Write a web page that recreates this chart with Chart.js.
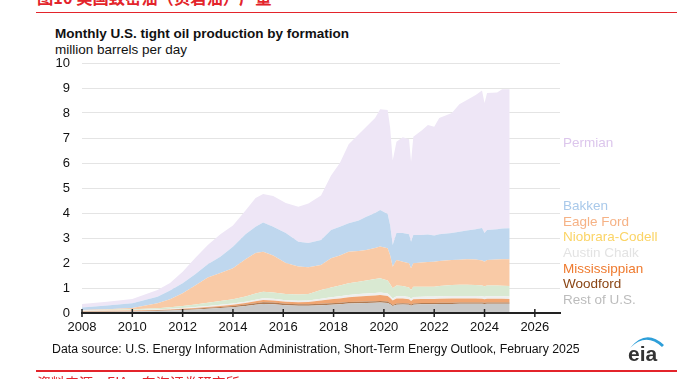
<!DOCTYPE html>
<html>
<head>
<meta charset="utf-8">
<script src="https://cdn.jsdelivr.net/npm/chart.js@4.4.1/dist/chart.umd.min.js"></script>
<style>
  body { margin: 0; background: #fff; font-family: "Liberation Sans", Arial, sans-serif; }
  #wrap { position: relative; width: 686px; height: 379px; overflow: hidden; }
  #grafico { position: absolute; left: 0; top: 0; }
  .txt { position: absolute; white-space: nowrap; }
  .cab { font-family: "Noto Sans CJK SC", sans-serif; color: #e3242b; }
  .linha { position: absolute; left: 36px; width: 641px; background: #e3242b; }
  .leg { position: absolute; left: 563px; font-size: 13.5px; line-height: 16px; white-space: nowrap; }
</style>
</head>
<body>
<div id="wrap">
  <div class="txt cab" style="left:37px; top:-11px; font-size:16.3px; line-height:16px; font-weight:bold;">图10 美国致密油（页岩油）产量</div>
  <div class="linha" style="top:11.5px; height:1.5px;"></div>

  <div class="txt" style="left:55px; top:26px; font-size:13.5px; line-height:16px; font-weight:bold; color:#111;">Monthly U.S. tight oil production by formation</div>
  <div class="txt" style="left:55px; top:41.5px; font-size:13.5px; line-height:16px; color:#111;">million barrels per day</div>

  <canvas id="grafico" width="686" height="379"></canvas>

  <div class="leg" style="top:135.4px; color:#dcc6ec;">Permian</div>
  <div class="leg" style="top:198.4px; color:#a9c9ea;">Bakken</div>
  <div class="leg" style="top:213.7px; color:#f6b285;">Eagle Ford</div>
  <div class="leg" style="top:229.4px; color:#fbd466;">Niobrara-Codell</div>
  <div class="leg" style="top:245.4px; color:#e3e3e3;">Austin Chalk</div>
  <div class="leg" style="top:261px; color:#ef7a2e;">Mississippian</div>
  <div class="leg" style="top:276.4px; color:#8a4514;">Woodford</div>
  <div class="leg" style="top:292.4px; color:#bcbcbc;">Rest of U.S.</div>

  <div class="txt" style="left:52px; top:342px; font-size:12.3px; line-height:14px; color:#111;">Data source: U.S. Energy Information Administration, Short-Term Energy Outlook, February 2025</div>

  <svg style="position:absolute; left:622px; top:333px;" width="50" height="34">
    <path d="M8,15 Q24,-5 42,12 L40,14 Q24,-1 8,15 Z" fill="#2e9fd9"/>
    <text x="6" y="28" font-family="Liberation Sans, Arial" font-weight="bold" font-size="21" fill="#333">eia</text>
  </svg>

  <div class="linha" style="top:370px; height:2px;"></div>
  <div class="txt cab" style="left:37px; top:375px; font-size:14px; line-height:14px;">资料来源：EIA，东海证券研究所</div>
</div>

<script>
// datas (ano fracionado)
const datas = [2008.0, 2009.0, 2010.0, 2011.0, 2011.5, 2012.0, 2012.5, 2013.0, 2013.5, 2014.0,
    2014.5, 2014.9, 2015.2, 2015.6, 2016.1, 2016.6, 2017.0, 2017.5, 2017.9, 2018.25,
    2018.6, 2019.0, 2019.3, 2019.65, 2019.85, 2020.15, 2020.25, 2020.35, 2020.5, 2020.75,
    2021.0, 2021.08, 2021.17, 2021.5, 2021.75, 2022.0, 2022.2, 2022.7, 2023.0, 2023.3,
    2023.65, 2023.9, 2024.0, 2024.1, 2024.5, 2024.7, 2025.0];

// milhões de barris por dia, por formação (de baixo para cima)
const restOfUS = [0.05, 0.05, 0.06, 0.08, 0.10, 0.12, 0.14, 0.17, 0.20, 0.23,
    0.28, 0.33, 0.36, 0.35, 0.31, 0.29, 0.29, 0.31, 0.33, 0.35,
    0.38, 0.39, 0.40, 0.41, 0.42, 0.40, 0.35, 0.28, 0.33, 0.34,
    0.33, 0.29, 0.33, 0.35, 0.35, 0.35, 0.36, 0.36, 0.37, 0.37,
    0.37, 0.37, 0.36, 0.37, 0.37, 0.37, 0.37];
const woodford = [0.01, 0.01, 0.01, 0.02, 0.02, 0.03, 0.03, 0.04, 0.04, 0.05,
    0.06, 0.06, 0.07, 0.07, 0.06, 0.06, 0.06, 0.06, 0.06, 0.06,
    0.06, 0.06, 0.06, 0.06, 0.06, 0.06, 0.05, 0.04, 0.05, 0.05,
    0.05, 0.05, 0.05, 0.05, 0.05, 0.05, 0.05, 0.05, 0.05, 0.05,
    0.05, 0.05, 0.05, 0.05, 0.05, 0.05, 0.05];
const mississippian = [0.02, 0.03, 0.03, 0.02, 0.02, 0.02, 0.03, 0.03, 0.04, 0.05,
    0.06, 0.08, 0.09, 0.08, 0.08, 0.08, 0.09, 0.13, 0.16, 0.17,
    0.19, 0.21, 0.22, 0.23, 0.24, 0.22, 0.20, 0.18, 0.20, 0.19,
    0.17, 0.14, 0.17, 0.16, 0.16, 0.16, 0.16, 0.17, 0.16, 0.16,
    0.16, 0.15, 0.14, 0.15, 0.15, 0.15, 0.14];
const austinChalk = [0.02, 0.02, 0.02, 0.02, 0.03, 0.03, 0.04, 0.04, 0.05, 0.05,
    0.05, 0.06, 0.07, 0.07, 0.06, 0.06, 0.06, 0.07, 0.08, 0.09,
    0.09, 0.10, 0.10, 0.10, 0.10, 0.10, 0.09, 0.08, 0.09, 0.09,
    0.09, 0.08, 0.09, 0.09, 0.10, 0.10, 0.10, 0.10, 0.10, 0.10,
    0.10, 0.10, 0.10, 0.10, 0.10, 0.10, 0.10];
const niobrara = [0.01, 0.02, 0.03, 0.05, 0.06, 0.08, 0.10, 0.13, 0.15, 0.17,
    0.21, 0.25, 0.26, 0.25, 0.25, 0.25, 0.26, 0.35, 0.39, 0.43,
    0.47, 0.49, 0.52, 0.56, 0.57, 0.52, 0.46, 0.41, 0.43, 0.41,
    0.38, 0.36, 0.41, 0.40, 0.39, 0.39, 0.41, 0.44, 0.45, 0.45,
    0.44, 0.43, 0.42, 0.43, 0.43, 0.42, 0.42];
const eagleFord = [0.01, 0.02, 0.05, 0.20, 0.32, 0.51, 0.76, 1.01, 1.12, 1.24,
    1.49, 1.62, 1.60, 1.48, 1.24, 1.12, 1.07, 1.00, 1.17, 1.20,
    1.26, 1.23, 1.22, 1.24, 1.27, 1.29, 1.15, 0.86, 1.02, 0.97,
    0.97, 0.87, 0.94, 0.97, 0.99, 1.00, 1.00, 1.00, 1.00, 1.02,
    1.02, 1.00, 0.98, 1.02, 1.04, 1.06, 1.07];
const bakken = [0.10, 0.15, 0.19, 0.26, 0.35, 0.40, 0.45, 0.53, 0.65, 0.86,
    1.00, 1.05, 1.17, 1.15, 1.20, 0.99, 0.97, 1.00, 1.13, 1.15,
    1.14, 1.22, 1.33, 1.40, 1.46, 1.37, 1.20, 0.87, 1.08, 1.15,
    1.16, 1.06, 1.13, 1.10, 1.10, 1.05, 1.07, 1.08, 1.12, 1.15,
    1.21, 1.30, 1.15, 1.20, 1.21, 1.23, 1.24];
const permian = [0.14, 0.15, 0.17, 0.27, 0.30, 0.46, 0.65, 0.77, 0.90, 0.85,
    0.95, 1.15, 1.14, 1.23, 1.20, 1.40, 1.58, 1.78, 2.18, 2.55,
    3.16, 3.45, 3.60, 3.80, 4.03, 4.16, 3.90, 3.38, 3.65, 3.83,
    3.80, 3.20, 3.93, 4.18, 4.38, 4.35, 4.65, 4.80, 5.10, 5.22,
    5.37, 5.50, 5.20, 5.48, 5.47, 5.57, 5.56];

const anosEixo = [2008, 2010, 2012, 2014, 2016, 2018, 2020, 2022, 2024, 2026];

const camadas = [
    { label: 'Rest of U.S.', valores: restOfUS, cor: '#c9c9c9' },
    { label: 'Woodford', valores: woodford, cor: '#b07a52' },
    { label: 'Mississippian', valores: mississippian, cor: '#f0a572' },
    { label: 'Austin Chalk', valores: austinChalk, cor: '#eeeeee' },
    { label: 'Niobrara-Codell', valores: niobrara, cor: '#d9e9d2' },
    { label: 'Eagle Ford', valores: eagleFord, cor: '#f9caa6' },
    { label: 'Bakken', valores: bakken, cor: '#bfd7ee' },
    { label: 'Permian', valores: permian, cor: '#eee6f6' }
];

// marcas do eixo x cruzando a linha de base
const marcasEixo = {
    id: 'marcasEixo',
    afterDraw(chart) {
        const { ctx, scales: { x }, chartArea } = chart;
        ctx.save();
        ctx.strokeStyle = '#222';
        ctx.lineWidth = 1.5;
        x.ticks.forEach(t => {
            const px = x.getPixelForValue(t.value);
            ctx.beginPath();
            ctx.moveTo(px, chartArea.bottom - 4);
            ctx.lineTo(px, chartArea.bottom + 4);
            ctx.stroke();
        });
        ctx.restore();
    }
};

const ctx = document.getElementById('grafico').getContext('2d');
new Chart(ctx, {
    type: 'line',
    data: {
        datasets: camadas.map((c, i) => ({
            label: c.label,
            data: c.valores.map((v, j) => ({ x: datas[j], y: v })),
            backgroundColor: c.cor,
            borderWidth: 0,
            pointRadius: 0,
            fill: i === 0 ? 'origin' : '-1',
            tension: 0
        }))
    },
    options: {
        responsive: false,
        animation: false,
        layout: { padding: { left: 0, top: 63, right: 126, bottom: 0 } },
        plugins: {
            legend: { display: false },
            tooltip: { enabled: false }
        },
        scales: {
            x: {
                type: 'linear',
                min: 2008,
                max: 2027,
                afterBuildTicks: s => { s.ticks = anosEixo.map(a => ({ value: a })); },
                afterFit: s => { s.height = 66; },
                ticks: {
                    color: '#111',
                    font: { family: 'Liberation Sans', size: 13 },
                    padding: 7,
                    maxRotation: 0,
                    callback: v => String(v)
                },
                grid: { display: false, drawTicks: false },
                border: { display: true, color: '#222', width: 2, z: 1 }
            },
            y: {
                stacked: true,
                min: 0,
                max: 10,
                afterFit: s => { s.width = 82; },
                ticks: {
                    stepSize: 1,
                    color: '#111',
                    font: { family: 'Liberation Sans', size: 13 },
                    padding: 12
                },
                grid: { color: '#e4e4e4', lineWidth: 1, drawTicks: false },
                border: { display: false }
            }
        }
    },
    plugins: [marcasEixo]
});
</script>
</body>
</html>
